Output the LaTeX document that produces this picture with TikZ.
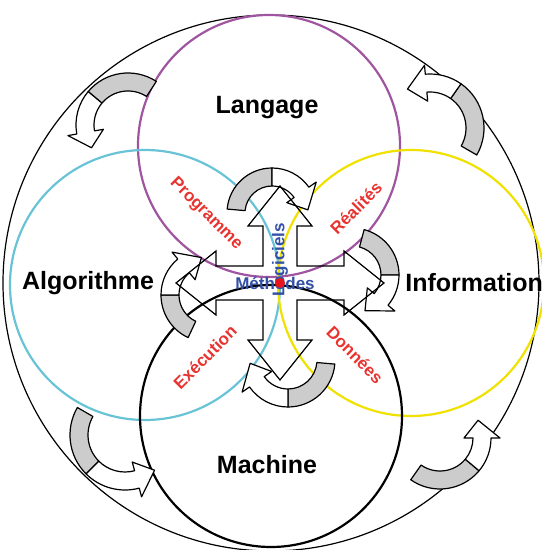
\documentclass[tikz,border=0pt]{standalone}
\usepackage{fontspec}
\setmainfont{Liberation Sans}
\usetikzlibrary{calc}

\definecolor{langviolet}{RGB}{160,85,160}
\definecolor{algocyan}{RGB}{105,195,215}
\definecolor{infoyellow}{RGB}{240,225,0}
\definecolor{labelred}{RGB}{232,52,48}
\definecolor{labelblue}{RGB}{50,80,165}
\definecolor{hubred}{RGB}{230,20,30}

\begin{document}
\begin{tikzpicture}[
    x=0.5pt, y=0.5pt,
    ring/.style={line width=1.1pt},
    realm/.style={font=\fontsize{12.5}{15}\selectfont\bfseries, inner sep=1pt},
    link/.style={font=\fontsize{8.5}{10}\selectfont\bfseries, text=labelred, inner sep=1pt},
    core/.style={font=\fontsize{8.5}{10}\selectfont\bfseries, text=labelblue, inner sep=1pt},
    band/.style={draw=black, line width=0.6pt, line join=round}
]
\useasboundingbox (-270,-267) rectangle (271,283);
% circles
\draw[line width=0.6pt] (1,0) circle[radius=268];
\draw[ring, langviolet] (-1,137) circle[radius=131];
\draw[ring, algocyan] (-125,-2) circle[radius=135];
\draw[ring, infoyellow] (141,0) circle[radius=133];
\draw[ring, black] (1,-133) circle[radius=131];

% curved arrows: outer ones turn counter-clockwise, inner ones clockwise
\foreach \cx/\cy/\r/\aa/\ab/\ac/\ad in {
    -142/158/43/57/140/190/212, 160/155/45/-30/55/95/120,
    -145/-152/46/150/225/285/310, 170/-155/42/235/320/360/385,
    2/70/36/175/90/35/5, 82/8/38/75/0/-40/-70,
    18/-77/38/-5/-90/-145/-175, -62/-12/38/245/180/130/100} {
  \pgfmathsetmacro\ri{\r-9}
  \pgfmathsetmacro\ro{\r+9}
  \pgfmathsetmacro\hi{\r-18}
  \pgfmathsetmacro\ho{\r+18}
  \begin{scope}[shift={(\cx,\cy)}]
    \filldraw[band, fill=gray!40] (\aa:\ri) arc[start angle=\aa, end angle=\ab, radius=\ri]
      -- (\ab:\ro) arc[start angle=\ab, end angle=\aa, radius=\ro] -- cycle;
    \filldraw[band, fill=white] (\ab:\ri) arc[start angle=\ab, end angle=\ac, radius=\ri]
      -- (\ac:\hi) -- (\ad:\r) -- (\ac:\ho) -- (\ac:\ro)
      arc[start angle=\ac, end angle=\ab, radius=\ro] -- cycle;
  \end{scope}
}

% cross of four arrows
\coordinate (hub) at (10,0);
\draw[line width=0.6pt, shift={(hub)}]
    (17,17) -- (17,57) -- (32,57) -- (0,97) -- (-32,57) -- (-17,57) -- (-17,17)
    -- (-64,17) -- (-64,32) -- (-104,0) -- (-64,-32) -- (-64,-17) -- (-17,-17)
    -- (-17,-57) -- (-32,-57) -- (0,-97) -- (32,-57) -- (17,-57) -- (17,-17)
    -- (64,-17) -- (64,-32) -- (104,0) -- (64,32) -- (64,17) -- cycle;

\node[realm] (lang) at (-3,175) {Langage};
\node[realm] (mach) at (-3,-182) {Machine};
\node[realm] (algo) at (-182,0) {Algorithme};
\node[realm, anchor=west] (info) at (133,0) {Information};
\node[link, rotate=-45] (prog) at (-64,69) {Programme};
\node[link, rotate=45] (real) at (86,75) {Réalités};
\node[link, rotate=45] (exec) at (-65,-74) {Exécution};
\node[link, rotate=-45] (donn) at (85,-72) {Données};
\node[core, rotate=90] (logi) at (10,23) {Logiciels};
\node[core] (meth) at (5,0) {Méthodes};
\fill[hubred] (hub) circle[radius=5];
\end{tikzpicture}
\end{document}
